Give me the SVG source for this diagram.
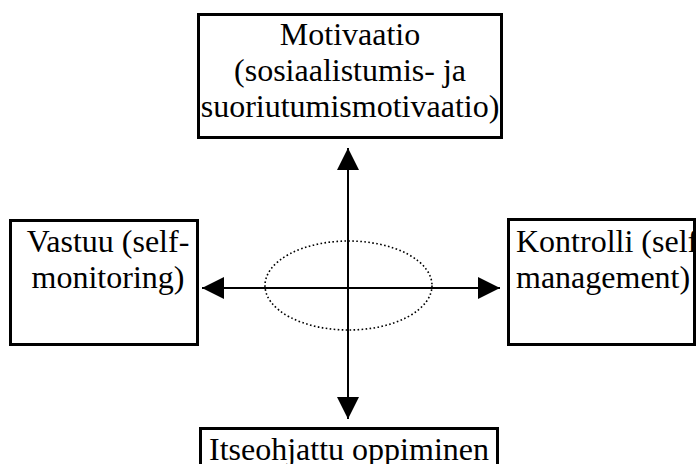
<svg xmlns="http://www.w3.org/2000/svg" width="697" height="464" viewBox="0 0 697 464">
  <style>
    .box { fill: #ffffff; stroke: #000000; stroke-width: 3; }
    .label { font-family: "Liberation Serif", Tinos, "Times New Roman", "DejaVu Serif", serif; font-size: 32px; fill: #000000; text-anchor: middle; }
    .left { text-anchor: start; }
    .axis { stroke: #000000; stroke-width: 2; fill: none; }
    .ring { fill: none; stroke: #000000; stroke-width: 1.6; stroke-dasharray: 1.6 2.4; }
  </style>
  <defs>
    <marker id="head" viewBox="0 0 22 22" refX="22" refY="11" markerWidth="22" markerHeight="22" markerUnits="userSpaceOnUse" orient="auto">
      <path d="M0,0 L22,11 L0,22 Z" fill="#000000"/>
    </marker>
    <!-- keeps the long first line inside the right-hand box -->
    <clipPath id="rightClip">
      <rect x="508" y="220" width="186" height="125"/>
    </clipPath>
  </defs>

  <g id="motivaatio">
    <rect class="box" x="198.5" y="14.5" width="303" height="123"/>
    <text class="label" x="350" y="45">Motivaatio</text>
    <text class="label" x="350" y="81">(sosiaalistumis- ja</text>
    <text class="label" x="350" y="117">suoriutumismotivaatio)</text>
  </g>

  <g id="vastuu">
    <rect class="box" x="10.5" y="220.5" width="187" height="124"/>
    <text class="label" x="108" y="252">Vastuu (self-</text>
    <text class="label" x="108" y="288">monitoring)</text>
  </g>

  <g id="kontrolli">
    <rect class="box" x="508.5" y="219.5" width="186" height="125"/>
    <g clip-path="url(#rightClip)">
      <text class="label left" x="516" y="252">Kontrolli (self-</text>
      <text class="label left" x="516" y="288">management)</text>
    </g>
  </g>

  <g id="itseohjattu">
    <rect class="box" x="200.5" y="428.5" width="297" height="60"/>
    <text class="label" x="349" y="460">Itseohjattu oppiminen</text>
  </g>

  <g id="connectors">
    <ellipse class="ring" cx="348.5" cy="285.5" rx="83.5" ry="44.5"/>
    <line class="axis" x1="348" y1="288" x2="348" y2="148" marker-end="url(#head)"/>
    <line class="axis" x1="348" y1="288" x2="348" y2="419" marker-end="url(#head)"/>
    <line class="axis" x1="348" y1="288" x2="202" y2="288" marker-end="url(#head)"/>
    <line class="axis" x1="348" y1="288" x2="500" y2="288" marker-end="url(#head)"/>
  </g>
</svg>
